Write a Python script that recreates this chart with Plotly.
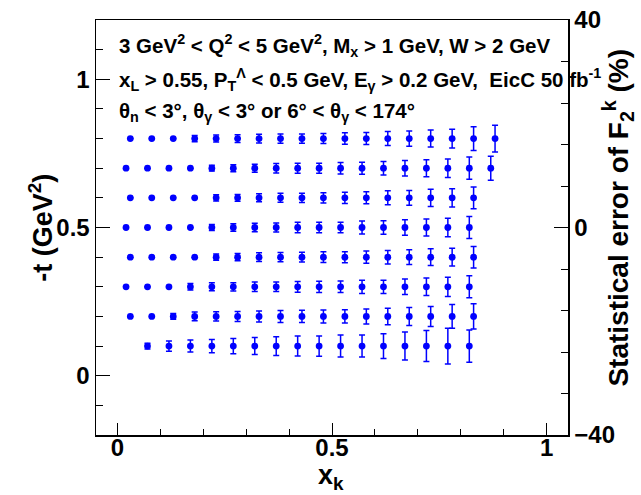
import plotly.graph_objects as go

# ---- data ----
# -t rows (GeV^2)
t_rows = [0.8, 0.7, 0.6, 0.5, 0.4, 0.3, 0.2, 0.1]

# x_k positions of the points in each row
x_t08 = [0.03, 0.08, 0.13, 0.18, 0.23, 0.28, 0.33, 0.38, 0.43, 0.48, 0.53, 0.58, 0.63, 0.68, 0.73, 0.78, 0.83, 0.88]
x_t07 = [0.02, 0.07, 0.12, 0.17, 0.22, 0.27, 0.32, 0.37, 0.42, 0.47, 0.52, 0.57, 0.62, 0.67, 0.72, 0.77, 0.82, 0.87]
x_t06 = [0.03, 0.08, 0.13, 0.18, 0.23, 0.28, 0.33, 0.38, 0.43, 0.48, 0.53, 0.58, 0.63, 0.68, 0.73, 0.78, 0.83]
x_t05 = [0.02, 0.07, 0.12, 0.17, 0.22, 0.27, 0.32, 0.37, 0.42, 0.47, 0.52, 0.57, 0.62, 0.67, 0.72, 0.77, 0.82]
x_t04 = [0.03, 0.08, 0.13, 0.18, 0.23, 0.28, 0.33, 0.38, 0.43, 0.48, 0.53, 0.58, 0.63, 0.68, 0.73, 0.78, 0.83]
x_t03 = [0.02, 0.07, 0.12, 0.17, 0.22, 0.27, 0.32, 0.37, 0.42, 0.47, 0.52, 0.57, 0.62, 0.67, 0.72, 0.77, 0.82]
x_t02 = [0.03, 0.08, 0.13, 0.18, 0.23, 0.28, 0.33, 0.38, 0.43, 0.48, 0.53, 0.58, 0.63, 0.68, 0.73, 0.78, 0.83]
x_t01 = [0.07, 0.12, 0.17, 0.22, 0.27, 0.32, 0.37, 0.42, 0.47, 0.52, 0.57, 0.62, 0.67, 0.72, 0.77, 0.82]

# statistical error of F2^k (%) for each point (right axis)
err_t08 = [0.40, 0.42, 0.48, 0.60, 0.68, 0.75, 0.85, 0.88, 0.90, 0.96, 1.10, 1.16, 1.35, 1.48, 1.64, 1.82, 2.30, 2.57]
err_t07 = [0.40, 0.42, 0.45, 0.50, 0.55, 0.67, 0.77, 0.90, 0.98, 0.95, 1.12, 1.16, 1.30, 1.48, 1.64, 1.80, 2.15, 2.30]
err_t06 = [0.40, 0.42, 0.45, 0.50, 0.60, 0.67, 0.77, 0.87, 0.90, 1.00, 1.08, 1.16, 1.35, 1.42, 1.67, 1.76, 2.10]
err_t05 = [0.40, 0.42, 0.45, 0.50, 0.60, 0.74, 0.80, 0.87, 1.00, 1.00, 1.02, 1.25, 1.30, 1.48, 1.64, 1.76, 2.13]
err_t04 = [0.42, 0.44, 0.46, 0.50, 0.60, 0.70, 0.83, 0.88, 0.92, 1.03, 1.06, 1.19, 1.30, 1.44, 1.60, 1.73, 2.07]
err_t03 = [0.45, 0.45, 0.50, 0.64, 0.77, 0.80, 0.93, 0.93, 1.04, 1.08, 1.10, 1.28, 1.28, 1.50, 1.67, 1.85, 2.12]
err_t02 = [0.45, 0.50, 0.55, 0.83, 0.90, 0.96, 1.06, 1.16, 1.18, 1.25, 1.28, 1.44, 1.60, 1.73, 1.93, 2.28, 2.42]
err_t01 = [0.55, 1.00, 1.15, 1.28, 1.48, 1.64, 1.80, 1.93, 1.95, 2.12, 2.12, 2.38, 2.70, 2.99, 3.44, 3.12]

x_rows = [x_t08, x_t07, x_t06, x_t05, x_t04, x_t03, x_t02, x_t01]
err_rows = [err_t08, err_t07, err_t06, err_t05, err_t04, err_t03, err_t02, err_t01]

# axis ranges
x_range = [-0.05, 1.05]
t_range = [-0.2, 1.2]
err_range = [-40, 40]

# tick labels
x_tickvals = [0, 0.5, 1]
x_ticktext = ["0", "0.5", "1"]
t_tickvals = [0, 0.5, 1]
t_ticktext = ["0", "0.5", "1"]
err_tickvals = [-40, 0, 40]
err_ticktext = ["\u221240", "0", "40"]

# convert % error into -t units through the two axis ranges
scale = (t_range[1] - t_range[0]) / (err_range[1] - err_range[0])
# like ROOT, error bars that stay inside the marker are not drawn
hide_below = 0.55

BLUE = "#0000ff"
FONT = "Liberation Sans, Arial, Helvetica, sans-serif"

fig = go.Figure()
for t, xs, errs in zip(t_rows, x_rows, err_rows):
    fig.add_trace(go.Scatter(
        x=xs, y=[t] * len(xs), mode="markers",
        marker=dict(color=BLUE, size=6.8, line=dict(width=0)),
        error_y=dict(type="data",
                     array=[e * scale if e >= hide_below else None for e in errs],
                     color=BLUE, thickness=1.5, width=3),
        showlegend=False, hoverinfo="skip"))

# empty trace so the right-hand axis is drawn
fig.add_trace(go.Scatter(x=[None], y=[None], yaxis="y2", showlegend=False,
                         hoverinfo="skip", mode="markers"))

bold = lambda s: "<b>" + s + "</b>"

common = dict(showline=True, linewidth=1.5, linecolor="black",
              showgrid=False, zeroline=False, automargin=False,
              tickfont=dict(size=24, family=FONT, color="black"),
              tickwidth=1, tickcolor="black", ticks="inside")

fig.update_layout(
    template="none",
    width=641, height=495,
    margin=dict(l=96, r=73, t=20, b=60, pad=0),
    paper_bgcolor="white", plot_bgcolor="white",
    font=dict(family=FONT, color="black"),
    showlegend=False,
    xaxis=dict(
        range=x_range, tickmode="array", tickvals=x_tickvals,
        ticktext=[bold(s) for s in x_ticktext], ticklen=12, mirror=True,
        minor=dict(tickmode="linear", tick0=0, dtick=0.1, ticks="inside",
                   ticklen=6, tickwidth=1, tickcolor="black"),
        **common),
    yaxis=dict(
        range=t_range, tickmode="array", tickvals=t_tickvals,
        ticktext=[bold(s) for s in t_ticktext], ticklen=14, mirror=True,
        minor=dict(tickmode="linear", tick0=0, dtick=0.1, ticks="inside",
                   ticklen=7, tickwidth=1, tickcolor="black"),
        **common),
    yaxis2=dict(
        range=err_range, overlaying="y", side="right",
        tickmode="array", tickvals=err_tickvals,
        ticktext=[bold(s) for s in err_ticktext], ticklen=14,
        minor=dict(tickmode="linear", tick0=0, dtick=8, ticks="inside",
                   ticklen=7, tickwidth=1, tickcolor="black"),
        **common),
)

try:
    fig.update_xaxes(ticklabelstandoff=-9)
except Exception:
    pass

# axis titles
fig.add_annotation(x=0.498, y=-0.10, xref="paper", yref="paper",
                   text=bold("x<sub>k</sub>"), showarrow=False,
                   xanchor="center", yanchor="middle",
                   font=dict(size=27, family=FONT, color="black"))
fig.add_annotation(x=-0.118, y=0.5, xref="paper", yref="paper",
                   text=bold("-t (GeV<sup>2</sup>)"), showarrow=False, textangle=-90,
                   xanchor="center", yanchor="middle",
                   font=dict(size=27, family=FONT, color="black"))
fig.add_annotation(x=1.106, y=0.524, xref="paper", yref="paper",
                   text=bold("Statistical error of F<sub>2</sub><sup>k</sup> (%)"),
                   showarrow=False, textangle=-90,
                   xanchor="center", yanchor="middle",
                   font=dict(size=28, family=FONT, color="black"))

ann_lines = [
    ("3 GeV<sup>2</sup> &lt; Q<sup>2</sup> &lt; 5 GeV<sup>2</sup>, M<sub>x</sub> &gt; 1 GeV, W &gt; 2 GeV", 1.115),
    ("x<sub>L</sub> &gt; 0.55, P<sub>T</sub><sup>\u039b</sup> &lt; 0.5 GeV, E<sub>\u03b3</sub> &gt; 0.2 GeV,  EicC 50 fb<sup>-1</sup>", 1.0),
    ("\u03b8<sub>n</sub> &lt; 3\u00b0, \u03b8<sub>\u03b3</sub> &lt; 3\u00b0 or 6\u00b0 &lt; \u03b8<sub>\u03b3</sub> &lt; 174\u00b0", 0.89),
]
for text, ypos in ann_lines:
    fig.add_annotation(x=0.0, y=ypos, xref="x", yref="y", text=bold(text),
                       showarrow=False, xanchor="left", yanchor="middle",
                       font=dict(size=20.5, family=FONT, color="black"))

fig.write_html("out.html",
               config={"displayModeBar": False, "staticPlot": True},
               post_script="document.body.style.margin='0';document.body.style.overflow='hidden';")
